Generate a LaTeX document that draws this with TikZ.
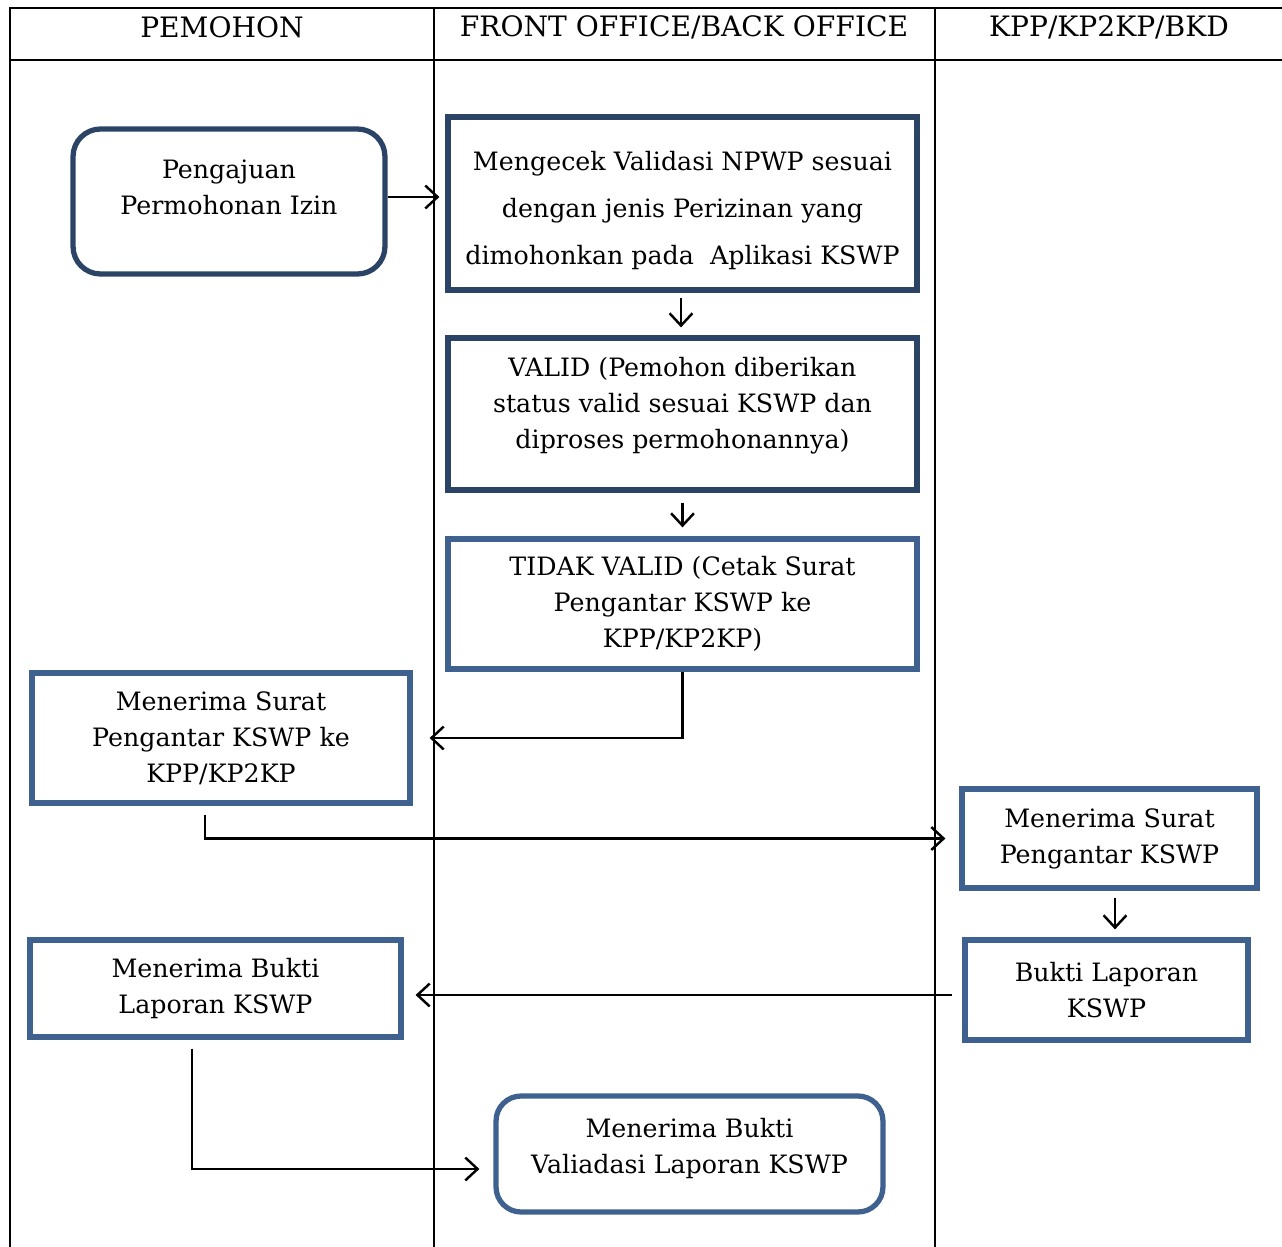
\documentclass[tikz,border=0pt]{standalone}
\usepackage{fontspec}
\setmainfont{DejaVu Serif}
\usetikzlibrary{arrows.meta}
\definecolor{boxdark}{HTML}{2B4466}
\definecolor{boxlight}{HTML}{3F6190}
\tikzset{
  lane/.style={line width=1.3pt},
  lanehead/.style={font=\fontsize{16}{19}\selectfont},
  proc/.style={draw=boxlight, line width=3pt, align=center, inner sep=0pt,
    font=\fontsize{14.4}{20.4}\selectfont},
  procdark/.style={proc, draw=boxdark},
  terminal/.style={proc, rounded corners=0.55cm},
  flow/.style={line width=1.4pt,
    -{Straight Barb[length=7pt,width=13pt,line width=1.4pt]}},
}

\begin{document}
\begin{tikzpicture}[x=0.02cm, y=-0.02cm]
\useasboundingbox (0,0) rectangle (1282,1247);
% swimlanes
\draw[lane] (10,1247) -- (10,8) -- (1282,8);
\draw[lane] (10,60) -- (1282,60);
\draw[lane] (434,8) -- (434,1247);
\draw[lane] (935,8) -- (935,1247);
\node[lanehead] (hpemohon) at (222,27) {PEMOHON};
\node[lanehead] (hoffice) at (684,27) {FRONT OFFICE/BACK OFFICE};
\node[lanehead] (hkpp) at (1109,27) {KPP/KP2KP/BKD};

% steps
\node[terminal, draw=boxdark, minimum width=6.24cm, minimum height=2.90cm]
  (pengajuan) at (229,201.5) {Pengajuan\\Permohonan Izin\\[-0.16cm]\mbox{}};
\node[procdark, minimum width=9.38cm, minimum height=3.46cm,
  font=\fontsize{14.4}{26.7}\selectfont]
  (cek) at (682.5,203.5) {\rule{0pt}{0.65cm}Mengecek Validasi NPWP sesuai\\dengan jenis Perizinan yang\\dimohonkan pada\ \ Aplikasi KSWP};
\node[procdark, minimum width=9.38cm, minimum height=3.04cm]
  (valid) at (682.5,414) {VALID (Pemohon diberikan\\status valid sesuai KSWP dan\\diproses permohonannya)\\[-0.28cm]\mbox{}};
\node[proc, minimum width=9.38cm, minimum height=2.60cm]
  (tidak) at (682.5,604) {TIDAK VALID (Cetak Surat\\Pengantar KSWP ke\\KPP/KP2KP)};
\node[proc, minimum width=7.56cm, minimum height=2.60cm]
  (terimasurat) at (221,738) {Menerima Surat\\Pengantar KSWP ke\\KPP/KP2KP};
\node[proc, minimum width=5.90cm, minimum height=1.98cm]
  (suratkpp) at (1109.5,838.5) {Menerima Surat\\Pengantar KSWP};
\node[proc, minimum width=5.66cm, minimum height=2.00cm]
  (bukti) at (1106.5,990) {Bukti Laporan\\KSWP};
\node[proc, minimum width=7.42cm, minimum height=1.94cm]
  (terimabukti) at (215.5,988.5) {Menerima Bukti\\Laporan KSWP};
\node[terminal, minimum width=7.74cm, minimum height=2.32cm, rounded corners=0.5cm]
  (validasi) at (689.5,1154) {Menerima Bukti\\Valiadasi Laporan KSWP\\[-0.4cm]\mbox{}};

% flow
\draw[flow, shorten >=0.12cm] ([yshift=0.09cm]pengajuan.east) -- ([yshift=0.09cm]pengajuan.east -| cek.west);
\draw[flow, shorten <=0.1cm, shorten >=0.16cm] ([xshift=-0.03cm]cek.south) -- ([xshift=-0.03cm]valid.north);
\draw[flow, shorten <=0.2cm, shorten >=0.18cm] (valid.south) -- (tidak.north);
\draw[flow, shorten >=0.34cm] (tidak.south) |- (terimasurat.east);
\draw[flow, shorten <=0.18cm, shorten >=0.28cm] ([xshift=-0.32cm]terimasurat.south) |- (suratkpp.west);
\draw[flow, shorten <=0.14cm, shorten >=0.16cm] ([xshift=0.11cm]suratkpp.south) -- ([xshift=0.11cm]suratkpp.south |- bukti.north);
\draw[flow, shorten <=0.2cm, shorten >=0.24cm] ([yshift=-0.1cm]bukti.west) -- ([yshift=-0.1cm]bukti.west -| terimabukti.east);
\draw[flow, shorten <=0.18cm, shorten >=0.28cm] ([xshift=-0.47cm]terimabukti.south) |- ([yshift=-0.3cm]validasi.west);
\end{tikzpicture}
\end{document}
